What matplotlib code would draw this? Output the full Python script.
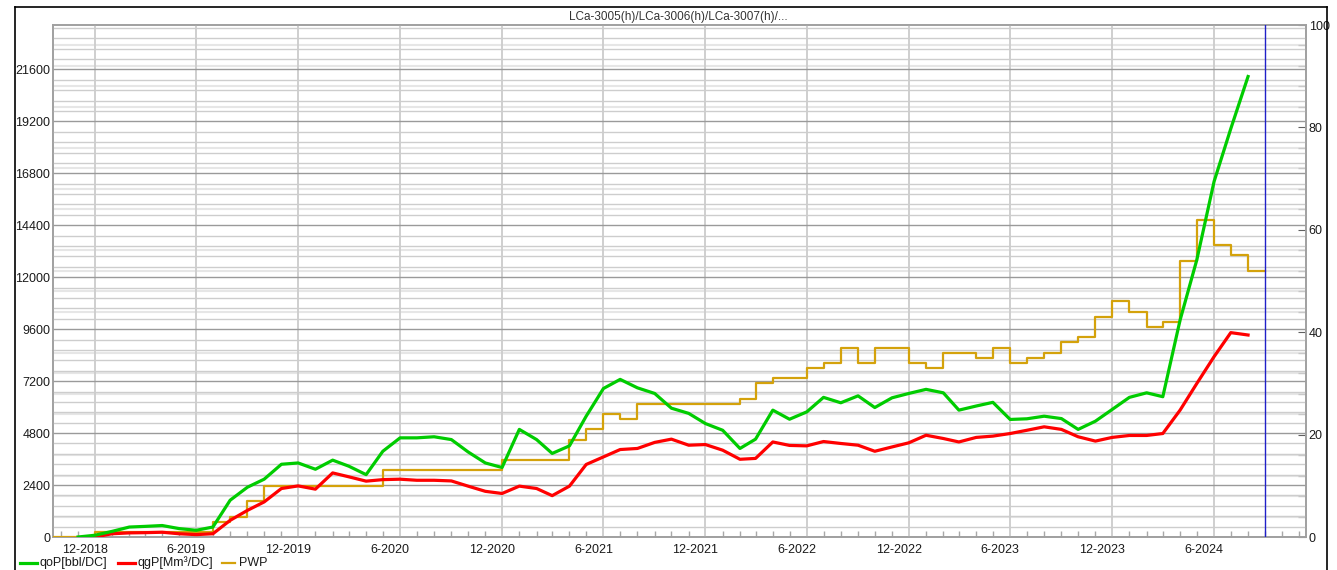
import matplotlib
matplotlib.use('Agg')
import matplotlib.pyplot as plt
import matplotlib.dates as mdates
import matplotlib.transforms as mtransforms
from matplotlib.lines import Line2D
from matplotlib.ticker import MultipleLocator
import numpy as np
import datetime as dt

plt.rcParams['font.family'] = ['Liberation Sans', 'DejaVu Sans']
plt.rcParams['font.size'] = 9

title = 'LCa-3005(h)/LCa-3006(h)/LCa-3007(h)/...'

# qoP [bbl/DC], monthly from 2018-11
qop_start = (2018, 11)
qop = [0, 80, 260, 460, 490, 530, 390, 310, 460, 1700, 2300, 2670,
       3360, 3420, 3130, 3550, 3270, 2880, 3960, 4580, 4580, 4630, 4500, 3930,
       3420, 3210, 4970, 4500, 3860, 4210, 5580, 6860, 7280, 6890, 6630, 5950,
       5710, 5240, 4930, 4090, 4520, 5860, 5440, 5780, 6450, 6200, 6520, 5980,
       6430, 6630, 6820, 6660, 5860, 6050, 6220, 5430, 5460, 5580, 5470, 4970,
       5350, 5890, 6450, 6660, 6480, 10020, 12800, 16420, 18860, 21270]

# qgP [Mm3/DC], monthly from 2018-12
qgp_start = (2018, 12)
qgp = [0, 150, 190, 200, 220, 150, 110, 150, 770, 1230, 1620, 2240,
       2360, 2210, 2960, 2780, 2580, 2650, 2670, 2620, 2620, 2590, 2350, 2110,
       2010, 2350, 2240, 1910, 2350, 3350, 3700, 4040, 4090, 4370, 4520, 4240,
       4270, 4010, 3590, 3630, 4390, 4230, 4210, 4410, 4320, 4240, 3960, 4160,
       4350, 4700, 4550, 4390, 4600, 4660, 4780, 4930, 5090, 4970, 4630, 4430,
       4600, 4690, 4690, 4780, 5860, 7090, 8330, 9440, 9330]

# PWP (right axis), monthly steps from 2018-09, last point closes the step
pwp_start = (2018, 9)
pwp = [0, 0, 0, 1, 1, 1, 1, 1, 1, 1, 3, 4, 7, 10,
       10, 10, 10, 10, 10, 10, 13, 13, 13, 13, 13, 13, 13,
       15, 15, 15, 15, 19, 21, 24, 23, 26, 26, 26, 26, 26, 26,
       27, 30, 31, 31, 33, 34, 37, 34, 37, 37, 34,
       33, 36, 36, 35, 37, 34, 35, 36, 38, 39, 43, 46,
       44, 41, 42, 54, 62, 57, 55, 52, 52]


def months(start, n):
    y, m = start
    out = []
    for i in range(n):
        out.append(dt.datetime(y, m, 1))
        m += 1
        if m > 12:
            m = 1
            y += 1
    return out


qop_x = months(qop_start, len(qop))
qgp_x = months(qgp_start, len(qgp))
pwp_x = months(pwp_start, len(pwp))

W, H = 1337, 570
fig = plt.figure(figsize=(W / 100, H / 100), dpi=100)
L, R, T, B = 53, 1306, 25, 537
ax = fig.add_axes([L / W, (H - B) / H, (R - L) / W, (B - T) / H])
ax2 = ax.twinx()
ax.set_zorder(2)
ax2.set_zorder(1)
ax.patch.set_visible(False)

ymax = 23650
ax.set_ylim(0, ymax)
ax2.set_ylim(0, 100)
ax.set_xlim(dt.datetime(2018, 9, 17), dt.datetime(2024, 11, 13))

# grids
ax.yaxis.set_major_locator(MultipleLocator(2400))
ax.yaxis.set_minor_locator(MultipleLocator(480))
ax.yaxis.grid(True, which='major', color='#9a9a9a', lw=1.0)
ax.yaxis.grid(True, which='minor', color='#cdcdcd', lw=1.0)
ax2.yaxis.set_major_locator(MultipleLocator(20))
ax2.yaxis.set_minor_locator(MultipleLocator(4))
ax2.yaxis.grid(True, which='minor', color='#e6e6e6', lw=1.5)

major_dates = [dt.datetime(y, m, 1) for y in range(2018, 2025) for m in (6, 12)]
major_dates = [d for d in major_dates if dt.datetime(2018, 9, 17) < d < dt.datetime(2024, 11, 13)]
ax.set_xticks(major_dates)
ax.set_xticklabels([f'{d.month}-{d.year}' for d in major_dates])
ax.xaxis.set_minor_locator(mdates.MonthLocator())
ax.xaxis.grid(True, which='major', color='#cccccc', lw=1.3)
ax.set_axisbelow(True)

# data
ax.step(pwp_x, pwp, where='post', color='#d4a20b', lw=1.6, transform=ax2.transData, zorder=3)
ax.plot(qgp_x, qgp, color='#ff0000', lw=2.3, zorder=4)
ax.plot(qop_x, qop, color='#00cc00', lw=2.3, zorder=5)
ax.axvline(dt.datetime(2024, 9, 1), color='#2020c8', lw=1.0, zorder=6)

# ticks
ax.tick_params(axis='y', which='both', length=0, pad=2, labelcolor='#1a1a1a', labelsize=9)
ax.tick_params(axis='x', which='major', length=0, pad=5, labelcolor='#1a1a1a', labelsize=9)
ax.tick_params(axis='x', which='minor', direction='in', length=4, color='#a8a8a8', width=1)
ax2.tick_params(axis='y', which='major', direction='in', length=6, color='#606060', pad=2,
                labelcolor='#1a1a1a', labelsize=9)
ax2.tick_params(axis='y', which='minor', direction='in', length=6, color='#c8c8c8', width=1)
off = mtransforms.ScaledTranslation(-10 / 100, 0, fig.dpi_scale_trans)
for lab in ax.get_xticklabels():
    lab.set_transform(lab.get_transform() + off)

for a in (ax, ax2):
    for s in a.spines.values():
        s.set_color('#a0a0a0')
        s.set_linewidth(1.2)

fig.text(678 / W, 1 - 17 / H, title, ha='center', va='center', fontsize=8.5, color='#333333')

# outer frame
fig.add_artist(Line2D([15 / W, 1327 / W], [1 - 7 / H, 1 - 7 / H], transform=fig.transFigure, color='black', lw=1.2))
fig.add_artist(Line2D([15 / W, 15 / W], [0, 1 - 7 / H], transform=fig.transFigure, color='black', lw=1.2))
fig.add_artist(Line2D([1327 / W, 1327 / W], [0, 1 - 7 / H], transform=fig.transFigure, color='black', lw=1.2))

# legend
ly = 1 - 563 / H
for x0, x1, tx, col, lw, txt in [(20, 37, 40, '#00cc00', 2.3, 'qoP[bbl/DC]'),
                                  (118, 135, 138, '#ff0000', 2.3, 'qgP[Mm³/DC]'),
                                  (222, 235, 239, '#d4a20b', 1.6, 'PWP')]:
    fig.add_artist(Line2D([x0 / W, x1 / W], [ly, ly], transform=fig.transFigure, color=col, lw=lw))
    fig.text(tx / W, ly, txt, ha='left', va='center', fontsize=9, color='#1a1a1a')

fig.savefig('out.png', dpi=100)
